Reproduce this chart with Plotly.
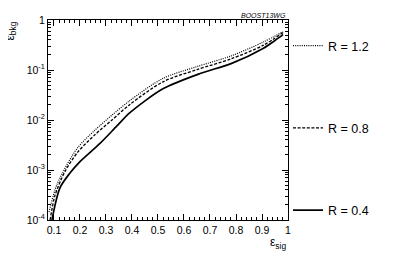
import plotly.graph_objects as go

# Signal efficiency / background efficiency
sig_r04 = [0.092, 0.123, 0.160, 0.200, 0.277, 0.342, 0.392, 0.519, 0.662, 0.781, 0.904, 0.950, 0.981]
bkg_r04 = [1.0e-4, 4.4e-4, 8.5e-4, 1.47e-3, 3.4e-3, 7.6e-3, 0.0140, 0.042, 0.085, 0.134, 0.270, 0.39, 0.51]

sig_r08 = [0.085, 0.104, 0.142, 0.192, 0.258, 0.323, 0.392, 0.519, 0.650, 0.781, 0.904, 0.981]
bkg_r08 = [1.0e-4, 3.1e-4, 9.3e-4, 2.3e-3, 5.1e-3, 0.010, 0.0205, 0.058, 0.102, 0.167, 0.310, 0.56]

sig_r12 = [0.081, 0.112, 0.189, 0.258, 0.323, 0.392, 0.519, 0.650, 0.781, 0.904, 0.981]
bkg_r12 = [1.44e-4, 5.2e-4, 2.7e-3, 6.3e-3, 0.0125, 0.0245, 0.068, 0.117, 0.191, 0.36, 0.585]

x_ticks = [0.1, 0.2, 0.3, 0.4, 0.5, 0.6, 0.7, 0.8, 0.9, 1.0]
x_labels = ["0.1", "0.2", "0.3", "0.4", "0.5", "0.6", "0.7", "0.8", "0.9", "1"]
y_ticks = [1e-4, 1e-3, 1e-2, 1e-1, 1]
y_labels = ["10<sup>-4</sup>", "10<sup>-3</sup>", "10<sup>-2</sup>", "10<sup>-1</sup>", "1"]
# små streck 2..9 i varje dekad
y_minor = [m * 10.0 ** e for e in range(-4, 0) for m in range(2, 10)]

FONT = "Liberation Sans, Arial, sans-serif"

fig = go.Figure()

# kurvorna, ordnade som i legenden (uppifrån)
fig.add_trace(go.Scatter(x=sig_r12, y=bkg_r12, mode="lines", name="R = 1.2",
                         line=dict(color="black", width=1.2, dash="1px,1.2px", shape="spline",
                                   smoothing=0.8), legendgroup="a"))
fig.add_trace(go.Scatter(x=sig_r08, y=bkg_r08, mode="lines", name="R = 0.8",
                         line=dict(color="black", width=1.3, dash="3px,1.6px", shape="spline",
                                   smoothing=0.8), legendgroup="b"))
fig.add_trace(go.Scatter(x=sig_r04, y=bkg_r04, mode="lines", name="R = 0.4",
                         line=dict(color="black", width=1.7, shape="spline", smoothing=0.8),
                         legendgroup="c"))

axis_common = dict(showline=True, linecolor="black", linewidth=1, mirror="ticks",
                   ticks="inside", ticklen=6, tickcolor="black", showgrid=False, zeroline=False,
                   ticklabeloverflow="allow",
                   tickfont=dict(family=FONT, size=10.5, color="black"))

fig.update_xaxes(range=[0.077, 1.0], tickvals=x_ticks, ticktext=x_labels,
                 minor=dict(ticks="inside", ticklen=3, dtick=0.02, tickcolor="black", showgrid=False),
                 **axis_common)
fig.update_yaxes(type="log", range=[-4, 0], tickvals=y_ticks, ticktext=y_labels,
                 minor=dict(ticks="inside", ticklen=3, tickvals=y_minor, tickcolor="black",
                            showgrid=False),
                 **axis_common)

# sidan har 8 px marginal i webbläsaren, därför 391x246
fig.update_layout(
    width=391, height=246,
    margin=dict(l=40, r=111, t=6, b=34),
    paper_bgcolor="white", plot_bgcolor="white",
    font=dict(family=FONT, size=11, color="black"),
    legend=dict(x=1.0, y=0.945, xanchor="left", yanchor="top", traceorder="grouped",
                tracegroupgap=63, bgcolor="rgba(0,0,0,0)", font=dict(size=12.5), itemwidth=30),
    annotations=[
        dict(text="<i>BOOST13WG</i>", xref="paper", yref="paper", x=1.0, y=1.0, xanchor="right",
             yanchor="bottom", showarrow=False, font=dict(size=7, family=FONT), yshift=-1),
        dict(text="ε<sub>sig</sub>", xref="paper", yref="paper", x=1.0, y=0, xanchor="right",
             yanchor="top", yshift=-13, showarrow=False, font=dict(size=12, family=FONT)),
        dict(text="ε<sub>bkg</sub>", xref="paper", yref="paper", x=0, y=1.0, xanchor="right",
             yanchor="top", xshift=-28, yshift=0, textangle=-90, showarrow=False,
             font=dict(size=12, family=FONT)),
    ],
)

fig.write_html("out.html")
